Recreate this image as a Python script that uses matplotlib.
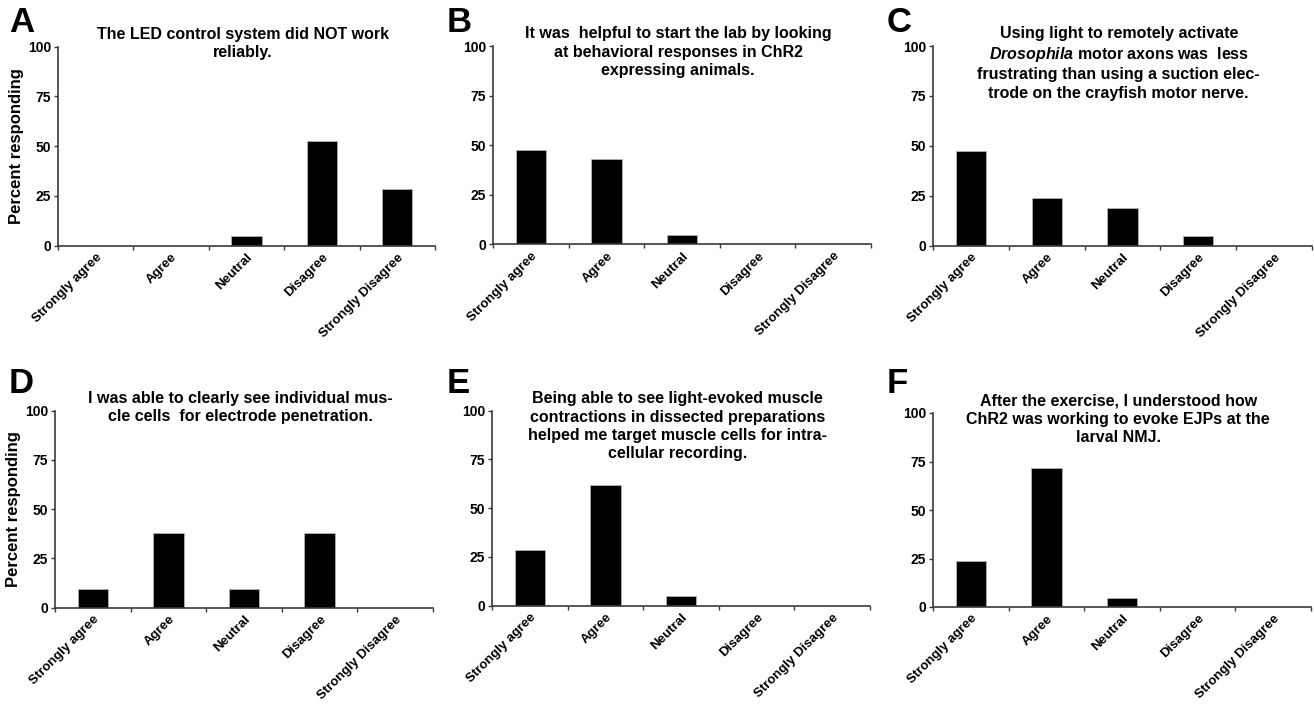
import matplotlib
matplotlib.use("Agg")
import matplotlib.pyplot as plt

plt.rcParams['font.family'] = ['Liberation Sans', 'DejaVu Sans']
plt.rcParams['font.weight'] = 'bold'
plt.rcParams['mathtext.fontset'] = 'custom'
plt.rcParams['mathtext.it'] = 'Liberation Sans:italic:bold'
plt.rcParams['mathtext.rm'] = 'Liberation Sans:bold'

categories = ['Strongly agree', 'Agree', 'Neutral', 'Disagree', 'Strongly Disagree']

vals_a = [0, 0, 4.8, 52.4, 28.6]
vals_b = [47.6, 42.9, 4.8, 0, 0]
vals_c = [47.6, 23.8, 19.0, 4.8, 0]
vals_d = [9.5, 38.1, 9.5, 38.1, 0]
vals_e = [28.6, 61.9, 4.8, 0, 0]
vals_f = [23.8, 71.4, 4.8, 0, 0]

titles = [
    "The LED control system did NOT work\nreliably.",
    "It was  helpful to start the lab by looking\nat behavioral responses in ChR2\nexpressing animals.",
    "Using light to remotely activate\n$\\mathit{Drosophila}$ motor axons was  less\n"
    "frustrating than using a suction elec-\ntrode on the crayfish motor nerve.",
    "I was able to clearly see individual mus-\ncle cells  for electrode penetration.",
    "Being able to see light-evoked muscle\ncontractions in dissected preparations\n"
    "helped me target muscle cells for intra-\ncellular recording.",
    "After the exercise, I understood how\nChR2 was working to evoke EJPs at the\nlarval NMJ.",
]
letters = ['A', 'B', 'C', 'D', 'E', 'F']
yticks = [0, 25, 50, 75, 100]

W, H = 1314, 707
# axes boxes in pixels: left, top, right, bottom
boxes = [(58, 46.7, 435, 245.7), (493, 46, 871, 244.3), (933, 46, 1312, 245.7),
         (55, 410.7, 433, 607.7), (492, 410.7, 870, 605.7), (933, 413, 1311, 607)]
letter_pos = [(9, 6), (447, 6), (887, 6), (9, 367), (447, 367), (887, 367)]

fig = plt.figure(figsize=(W / 100, H / 100), dpi=100)
spine_col = '#3a3a3a'

for i, vals in enumerate([vals_a, vals_b, vals_c, vals_d, vals_e, vals_f]):
    l, t, r, b = boxes[i]
    ax = fig.add_axes([l / W, 1 - b / H, (r - l) / W, (b - t) / H])
    x = list(range(len(categories)))
    ax.bar(x, vals, width=0.4, color='black', edgecolor='#bbbbbb', linewidth=0.5)
    ax.set_xlim(-0.5, 4.5)
    ax.set_ylim(0, 100)
    ax.set_yticks(yticks)
    ax.set_yticklabels([str(v) for v in yticks], fontsize=10, fontweight='bold')
    ax.set_xticks([k - 0.5 for k in range(6)])
    ax.set_xticklabels([])
    ax.set_xticks(x, minor=True)
    ax.set_xticklabels(categories, minor=True, rotation=45, ha='right',
                       rotation_mode='anchor', fontsize=9.5, fontweight='bold')
    ax.tick_params(axis='x', which='minor', length=0, pad=4)
    ax.tick_params(axis='x', which='major', length=3, width=1, color=spine_col)
    ax.tick_params(axis='y', length=3, width=1, color=spine_col, pad=2)
    for s in ['top', 'right']:
        ax.spines[s].set_visible(False)
    for s in ['left', 'bottom']:
        ax.spines[s].set_color(spine_col)
        ax.spines[s].set_linewidth(1.2)
    ax.text(0.49, 1.1, titles[i], transform=ax.transAxes, ha='center', va='top',
            fontsize=11.5, fontweight='bold', linespacing=1.28)
    if i in (0, 3):
        ax.set_ylabel('Percent responding', fontsize=12, fontweight='bold', labelpad=3)
    lx, ly = letter_pos[i]
    fig.text(lx / W, 1 - ly / H, letters[i], ha='left', va='top',
             fontsize=25, fontweight='bold')

fig.savefig('out.png', dpi=100)
